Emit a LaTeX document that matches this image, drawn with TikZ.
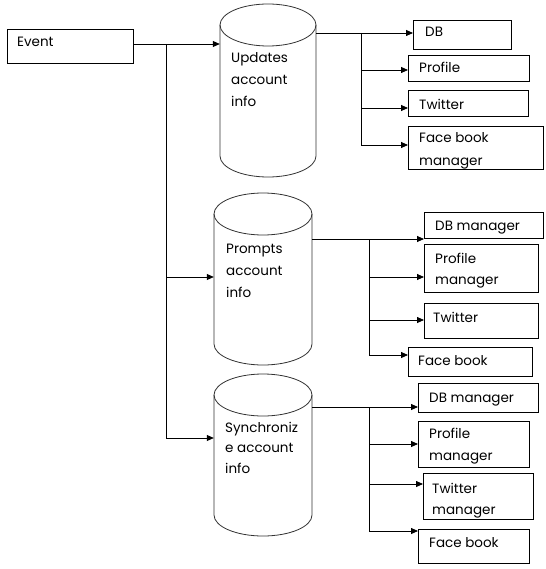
\documentclass[tikz,border=0pt]{standalone}
\usepackage{fontspec}
\setmainfont{Poppins}
\usetikzlibrary{arrows.meta}
\tikzset{
  ln/.style={line width=0.8pt, black},
  arr/.style={ln, -{Triangle[length=7pt,width=6pt]}},
  cyl/.style={line width=0.8pt, black!80},
  txt/.style={anchor=base west, inner sep=0pt, align=left, font=\fontsize{13.5}{21.5}\selectfont},
  boxnode/.style={draw, line width=0.8pt, inner sep=0pt, anchor=north west}
}
% box: name, x1, y1, x2, y2
\newcommand\mybox[5]{%
  \node[boxnode, minimum width={(#4-#2)*1pt}, minimum height={(#5-#3)*1pt}] (#1) at (#2,#3) {};}
% cylinder: name, xl, xr, yt, yb
\newcommand\mycyl[5]{%
  \pgfmathsetmacro\crx{(#3-#2)/2}%
  \pgfmathsetmacro\ccx{(#3+#2)/2}%
  \pgfmathsetmacro\cyt{#4+21}%
  \pgfmathsetmacro\cyb{#5-21}%
  \node[inner sep=0pt, minimum width={(#3-#2)*1pt}, minimum height={(#5-#4)*1pt}] (#1) at ({(#2+#3)/2},{(#4+#5)/2}) {};
  \draw[cyl] (\ccx,\cyt) ellipse [x radius=\crx pt, y radius=21pt];
  \draw[cyl] (#2,\cyt) -- (#2,\cyb) arc[start angle=180, end angle=360, x radius=\crx pt, y radius=21pt] -- (#3,\cyt);}
\begin{document}
\begin{tikzpicture}[x=1pt, y=-1pt]
\fill[white] (0,0) rectangle (545,569);
\useasboundingbox (0,0) rectangle (545,569);

% event
\mybox{ev}{7}{29}{133}{63}
\node[txt] (evt) at (17,47) {Event};

% cylinders (multi-line text nodes are placed at the baseline of their last line)
\mycyl{c1}{220}{316}{4}{177}
\mycyl{c2}{214}{312}{193}{365}
\mycyl{c3}{214}{312}{374}{536}
\node[txt, font=\fontsize{13.5}{22}\selectfont] (c1t) at (231,107) {Updates\\account\\info};
\node[txt, font=\fontsize{13.5}{22}\selectfont] (c2t) at (226,297) {Prompts\\account\\info};
\node[txt, font=\fontsize{13.5}{20.5}\selectfont] (c3t) at (225,473) {Synchroniz\\e account\\info};

% group 1 boxes
\mybox{b1a}{413}{20}{511}{49}
\mybox{b1b}{408}{55}{529}{81}
\mybox{b1c}{408}{90}{528}{116}
\mybox{b1d}{408}{126}{543}{169}
\node[txt] (b1at) at (425,37) {DB};
\node[txt] (b1bt) at (419,73) {Profile};
\node[txt] (b1ct) at (419,110) {Twitter};
\begin{scope}
\clip (b1d.north west) rectangle (b1d.south east);
\node[txt, font=\fontsize{13.5}{23}\selectfont] (b1dt) at (419,166) {Face book\\manager};
\end{scope}

% group 2 boxes
\mybox{b2a}{424}{212}{543}{238}
\mybox{b2b}{424}{244}{538}{292}
\mybox{b2c}{424}{303}{538}{338}
\mybox{b2d}{408}{347}{532}{376}
\node[txt] (b2at) at (435,230) {DB manager};
\node[txt, font=\fontsize{13.5}{21}\selectfont] (b2bt) at (435,284) {Profile\\manager};
\node[txt] (b2ct) at (433,322) {Twitter};
\node[txt] (b2dt) at (418,365) {Face book};

% group 3 boxes
\mybox{b3a}{418}{383}{538}{412}
\mybox{b3b}{418}{421}{529}{467}
\mybox{b3c}{423}{473}{533}{519}
\mybox{b3d}{418}{529}{529}{563}
\node[txt] (b3at) at (429,402) {DB manager};
\node[txt, font=\fontsize{13.5}{22}\selectfont] (b3bt) at (429,460) {Profile\\manager};
\begin{scope}
\clip (b3c.north west) rectangle (b3c.south east);
\node[txt, font=\fontsize{13.5}{21}\selectfont] (b3ct) at (432,514) {Twitter\\manager};
\end{scope}
\node[txt] (b3dt) at (429,547) {Face book};

% main trunk
\coordinate (j0) at (166,44);
\coordinate (j2) at (166,277);
\coordinate (j3) at (166,438);
\draw[arr] (ev.east |- j0) -- (j0 -| c1.west);
\draw[ln] (j0) -- (j3);
\draw[arr] (j2) -- (j2 -| c2.west);
\draw[arr] (j3) -- (j3 -| c3.west);

% group 1 connectors
\coordinate (g1a) at (361,33);
\coordinate (g1b) at (361,70);
\coordinate (g1c) at (361,108);
\coordinate (g1d) at (361,145);
\draw[arr] (g1a -| c1.east) -- (g1a -| b1a.west);
\draw[ln] (g1a) -- (g1d);
\draw[arr] (g1b) -- (g1b -| b1b.west);
\draw[arr] (g1c) -- (g1c -| b1c.west);
\draw[arr] (g1d) -- (g1d -| b1d.west);

% group 2 connectors
\coordinate (g2a) at (369,239);
\coordinate (g2b) at (369,277);
\coordinate (g2c) at (369,320);
\coordinate (g2d) at (369,355);
\draw[arr] (g2a -| c2.east) -- (g2a -| b2a.west);
\draw[ln] (g2a) -- (g2d);
\draw[arr] (g2b) -- (g2b -| b2b.west);
\draw[arr] (g2c) -- (g2c -| b2c.west);
\draw[arr] (g2d) -- (g2d -| b2d.west);

% group 3 connectors
\coordinate (g3a) at (369,407);
\coordinate (g3b) at (369,444);
\coordinate (g3c) at (369,484);
\coordinate (g3d) at (369,531);
\draw[arr] (g3a -| c3.east) -- (g3a -| b3a.west);
\draw[ln] (g3a) -- (g3d);
\draw[arr] (g3b) -- (g3b -| b3b.west);
\draw[arr] (g3c) -- (g3c -| b3c.west);
\draw[arr] (g3d) -- (g3d -| b3d.west);
\end{tikzpicture}
\end{document}
